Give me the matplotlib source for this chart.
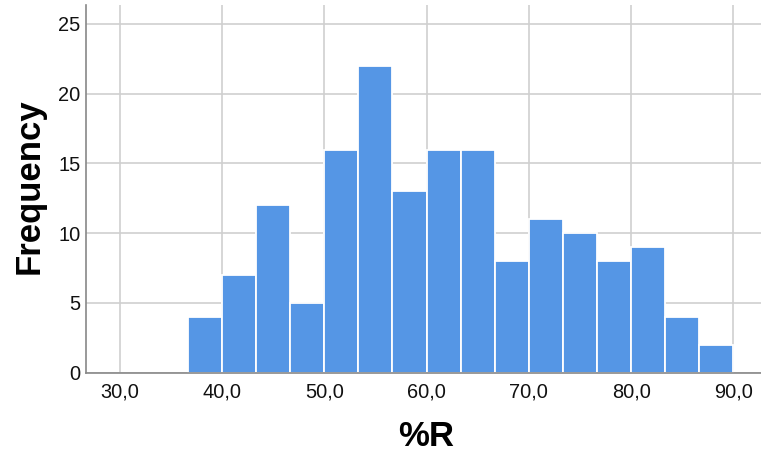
import matplotlib.pyplot as plt
import numpy as np

# histogram counts
counts = [4, 7, 12, 5, 16, 22, 13, 16, 16, 8, 11, 10, 8, 9, 4, 2]
bin_lo = 36.667
bin_hi = 90.0
x_ticks = [30, 40, 50, 60, 70, 80, 90]
x_tick_labels = ['30,0', '40,0', '50,0', '60,0', '70,0', '80,0', '90,0']
y_ticks = [0, 5, 10, 15, 20, 25]

edges = np.linspace(bin_lo, bin_hi, len(counts) + 1)

plt.rcParams['font.family'] = ['Liberation Sans', 'DejaVu Sans']

fig = plt.figure(figsize=(7.61, 4.54), dpi=100)
W, H = 761, 454
ax = fig.add_axes([86 / W, (H - 372.7) / H, (W - 86) / W, (372.7 - 5) / H])

ax.bar(edges[:-1], counts, width=np.diff(edges), align='edge',
       color='#5596e5', edgecolor='white', linewidth=1.3, zorder=3)

ax.set_xlim(26.7, 92.7)
ax.set_ylim(0, 26.36)
ax.set_xticks(x_ticks)
ax.set_xticklabels(x_tick_labels)
ax.set_yticks(y_ticks)

ax.grid(True, color='#cfcfcf', linewidth=1.2, zorder=0)
ax.tick_params(length=0, labelsize=14.4, colors='#111111', pad=7)
ax.tick_params(axis='y', pad=4)

for s in ['top', 'right']:
    ax.spines[s].set_visible(False)
for s in ['left', 'bottom']:
    ax.spines[s].set_color('#888888')
    ax.spines[s].set_linewidth(1.2)
    ax.spines[s].set_zorder(4)

fig.text(29 / W, 1 - 186 / H, 'Frequency', rotation=90, fontsize=25,
         fontweight='bold', ha='center', va='center')
fig.text(426 / W, 1 - 437 / H, '%R', fontsize=25, fontweight='bold',
         ha='center', va='center')

fig.savefig('out.png', dpi=100)
